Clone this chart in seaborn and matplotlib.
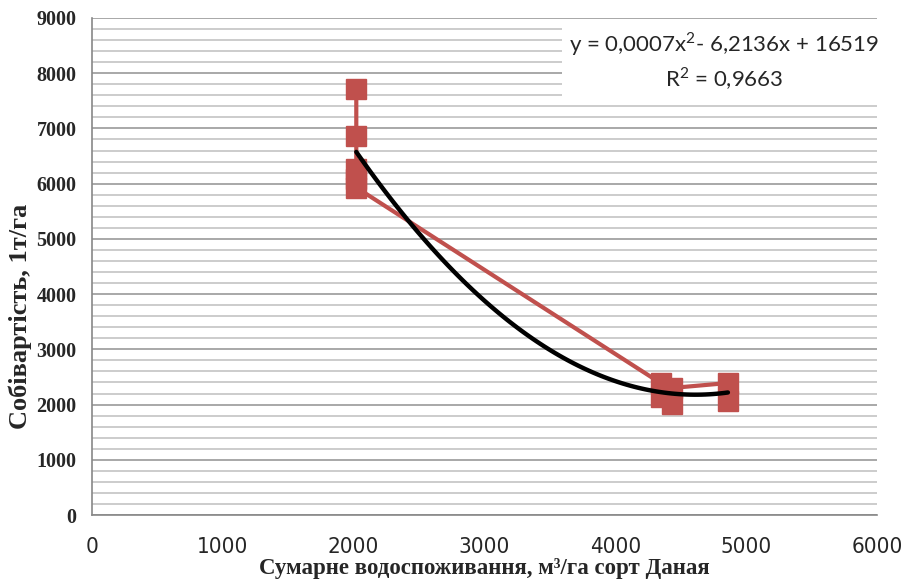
import numpy as np
import pandas as pd
import seaborn as sns
import matplotlib
matplotlib.use('Agg')
import matplotlib.pyplot as plt
from matplotlib.ticker import MultipleLocator

# Data (order as plotted)
water_use = [2020, 2020, 2020, 2020, 2020, 4345, 4345, 4430, 4430, 4860, 4860]
cost = [7720, 6870, 6270, 6080, 5930, 2390, 2140, 2010, 2300, 2390, 2060]

eq_text = 'y = 0,0007x$^2$- 6,2136x + 16519\nR$^2$ = 0,9663'
x_label = 'Сумарне водоспоживання, м³/га сорт Даная'
y_label = 'Собівартість, 1т/га'

df = pd.DataFrame({'water': water_use, 'cost': cost})

sns.set_style('white')
plt.rcParams['font.family'] = ['Liberation Sans', 'DejaVu Sans']
plt.rcParams['mathtext.fontset'] = 'custom'
plt.rcParams['mathtext.rm'] = 'Lato'

fig = plt.figure(figsize=(9.07, 5.79), dpi=100)
ax = fig.add_axes([0.1014, 0.1105, 0.8656, 0.8585])

red = '#C0504D'
ax.plot(df['water'], df['cost'], color=red, lw=3, marker='s', ms=14,
        mec=red, mfc=red, zorder=3)
sns.regplot(data=df, x='water', y='cost', order=2, ci=None, scatter=False,
            line_kws={'color': 'black', 'lw': 3.2, 'zorder': 4}, ax=ax)

ax.set_xlim(0, 6000)
ax.set_ylim(0, 9000)
ax.xaxis.set_major_locator(MultipleLocator(1000))
ax.yaxis.set_major_locator(MultipleLocator(1000))
ax.yaxis.set_minor_locator(MultipleLocator(200))
ax.grid(axis='y', which='major', color='#9a9a9a', lw=1.2)
ax.grid(axis='y', which='minor', color='#c4c4c4', lw=1.2)
ax.set_axisbelow(True)

for s in ['top', 'right']:
    ax.spines[s].set_visible(False)
for s in ['left', 'bottom']:
    ax.spines[s].set_color('#888888')
    ax.spines[s].set_linewidth(1.2)

ax.tick_params(axis='x', which='major', direction='out', length=6, color='#888888',
               labelsize=16, pad=10)
ax.tick_params(axis='y', which='major', direction='out', length=5, color='#888888',
               labelsize=14.5, pad=6)
ax.tick_params(axis='y', which='minor', length=0)
for t in ax.get_yticklabels():
    t.set_fontfamily('Liberation Serif')
    t.set_fontweight('bold')
for t in ax.get_xticklabels():
    t.set_fontfamily('DejaVu Sans')
    t.set_fontstretch('condensed')

ax.set_xlabel(x_label, fontsize=16.5, fontweight='bold', family='Liberation Serif')
ax.xaxis.set_label_coords(0.5, -0.107)
ax.xaxis.label.set_va('center')
ax.set_ylabel(y_label, fontsize=19, fontweight='bold', family='Liberation Serif')
ax.yaxis.set_label_coords(-0.0915, 0.40)
ax.yaxis.label.set_va('center')

ax.text(0.805, 0.975, eq_text, transform=ax.transAxes, ha='center', va='top',
        fontsize=16, family='Lato', linespacing=1.35, multialignment='center',
        bbox=dict(facecolor='white', edgecolor='none', pad=5), zorder=5)

fig.savefig('out.png', dpi=100)
